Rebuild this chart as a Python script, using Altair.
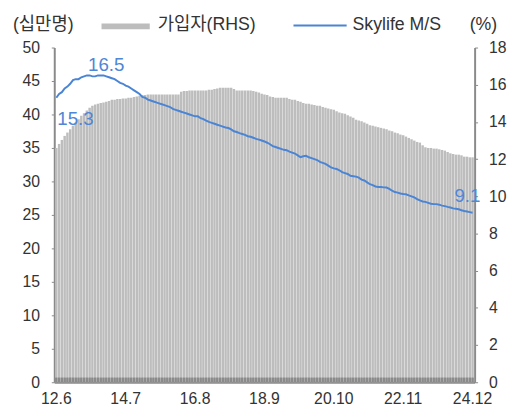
import altair as alt
import pandas as pd

# 가입자 (십만명), monthly 2012.6 - 2024.12
subscribers = [
    35.0, 35.6, 36.2, 36.8, 37.3, 37.8, 38.3, 38.8, 39.3, 39.8, 40.2, 40.6,
    41.0, 41.3, 41.5, 41.6, 41.7, 41.8, 41.9, 42.0, 42.2, 42.2, 42.3, 42.3,
    42.4, 42.4, 42.5, 42.5, 42.6, 42.7, 42.8, 42.9, 42.9, 43.0, 43.0, 43.0,
    43.0, 43.0, 43.0, 43.0, 43.0, 43.0, 43.0, 43.0, 43.0, 43.4, 43.5, 43.5,
    43.6, 43.6, 43.6, 43.6, 43.6, 43.6, 43.6, 43.7, 43.7, 43.8, 43.9, 44.0,
    44.0, 44.0, 44.0, 44.0, 43.8, 43.6, 43.6, 43.6, 43.6, 43.6, 43.6, 43.5,
    43.4, 43.3, 43.1, 43.0, 42.9, 42.7, 42.6, 42.5, 42.5, 42.5, 42.5, 42.5,
    42.3, 42.2, 42.2, 42.0, 41.9, 41.7, 41.6, 41.6, 41.5, 41.4, 41.3, 41.3,
    41.1, 41.0, 40.9, 40.8, 40.7, 40.5, 40.3, 40.2, 40.1, 39.9, 39.7, 39.5,
    39.2, 39.1, 39.0, 38.8, 38.6, 38.4, 38.3, 38.2, 38.1, 38.0, 37.9, 37.8,
    37.6, 37.5, 37.3, 37.2, 37.0, 36.9, 36.7, 36.5, 36.3, 36.1, 35.9, 35.8,
    35.4, 35.1, 35.0, 35.0, 34.9, 34.9, 34.8, 34.7, 34.6, 34.4, 34.2, 34.1,
    34.0, 34.0, 33.9, 33.7, 33.7, 33.6, 33.6,
]

# Skylife M/S (%)
share = [
    15.3, 15.5, 15.6, 15.8, 15.9, 16.05, 16.25, 16.3, 16.3, 16.4, 16.45, 16.5,
    16.5, 16.45, 16.45, 16.5, 16.5, 16.5, 16.45, 16.4, 16.35, 16.3, 16.2, 16.1,
    16.05, 15.95, 15.9, 15.8, 15.7, 15.6, 15.5, 15.35, 15.3, 15.2, 15.15, 15.1,
    15.05, 15.0, 14.95, 14.9, 14.85, 14.8, 14.7, 14.65, 14.6, 14.55, 14.5, 14.45,
    14.4, 14.35, 14.3, 14.3, 14.2, 14.15, 14.07, 14.0, 13.95, 13.9, 13.85, 13.8,
    13.75, 13.7, 13.67, 13.6, 13.5, 13.46, 13.4, 13.35, 13.3, 13.23, 13.2, 13.15,
    13.09, 13.05, 13.0, 12.95, 12.88, 12.8, 12.7, 12.65, 12.6, 12.55, 12.5, 12.48,
    12.4, 12.35, 12.3, 12.2, 12.1, 12.15, 12.18, 12.1, 12.05, 12.0, 11.95, 11.85,
    11.8, 11.74, 11.65, 11.55, 11.5, 11.47, 11.4, 11.3, 11.25, 11.2, 11.1, 11.08,
    11.06, 11.0, 10.9, 10.85, 10.75, 10.65, 10.6, 10.53, 10.5, 10.5, 10.48, 10.47,
    10.4, 10.3, 10.23, 10.2, 10.15, 10.12, 10.11, 10.05, 10.0, 9.94, 9.85, 9.78,
    9.72, 9.7, 9.65, 9.6, 9.58, 9.58, 9.55, 9.5, 9.47, 9.43, 9.4, 9.35,
    9.33, 9.3, 9.25, 9.21, 9.18, 9.15, 9.12,
]

months = []
for i in range(len(subscribers)):
    yy = 12 + (5 + i) // 12
    mm = (5 + i) % 12 + 1
    months.append(f"{yy}.{mm}")

tick_labels = ["12.6", "14.7", "16.8", "18.9", "20.10", "22.11", "24.12"]
left_ticks = [0, 5, 10, 15, 20, 25, 30, 35, 40, 45, 50]
right_ticks = [0, 2, 4, 6, 8, 10, 12, 14, 16, 18]

FONT = "Liberation Sans, Noto Sans CJK KR, sans-serif"
AXIS_GRAY = "#8a8a8a"
BAR_GRAY = "#bdbdbd"
BLUE = "#4a84d4"
LABEL_BLUE = "#4f86d6"

df = pd.DataFrame({"month": months, "subs": subscribers, "share": share})

x_axis = alt.Axis(values=tick_labels, labelAngle=0, title=None, ticks=False,
                  domainColor=AXIS_GRAY, domainWidth=2, labelFontSize=16,
                  labelColor="#333", labelPadding=9, labelFont=FONT,
                  labelOverlap=False, labelFlush=False)
x_scale = alt.Scale(paddingInner=0.12, paddingOuter=0.3)
x_enc = alt.X("month:N", sort=months, scale=x_scale, axis=x_axis)

left_axis = alt.Axis(values=left_ticks, title=None, grid=False, orient="left",
                     domainColor=AXIS_GRAY, domainWidth=2, tickColor=AXIS_GRAY,
                     tickSize=3, labelPadding=12, labelFontSize=16,
                     labelColor="#333", labelFont=FONT, labelOverlap=False,
                     labelFlush=False)
right_axis = alt.Axis(values=right_ticks, title=None, grid=False, orient="right",
                      domainColor=AXIS_GRAY, domainWidth=2, tickColor=AXIS_GRAY,
                      tickSize=3, labelPadding=11, labelFontSize=16,
                      labelColor="#333", labelFont=FONT, labelOverlap=False,
                      labelFlush=False)
left_scale = alt.Scale(domain=[0, 50])
right_scale = alt.Scale(domain=[0, 18])

base = alt.Chart(df)

bars = base.mark_bar(color=BAR_GRAY).encode(
    x=x_enc,
    y=alt.Y("subs:Q", scale=left_scale, axis=left_axis),
)
bottom_band = base.mark_bar(color=AXIS_GRAY).encode(
    x=x_enc,
    y=alt.YDatum(0, scale=left_scale, axis=left_axis),
    y2=alt.Y2Datum(0.7),
)
left_layer = alt.layer(bars, bottom_band)

line = base.mark_line(color=BLUE, strokeWidth=2).encode(
    x=x_enc,
    y=alt.Y("share:Q", scale=right_scale, axis=right_axis),
)

# annotations
ann_month = ["13.12", "12.6", "24.12"]
ann_value = [16.5, 15.3, 9.12]
ann_text = ["16.5", "15.3", "9.1"]
ann_df = pd.DataFrame({"month": ann_month, "share": ann_value, "text": ann_text})

def ann_layer(idx, align, dx, dy):
    return alt.Chart(ann_df.iloc[[idx]]).mark_text(
        align=align, baseline="middle", dx=dx, dy=dy, fontSize=19,
        color=LABEL_BLUE, font=FONT,
    ).encode(
        x=x_enc,
        y=alt.Y("share:Q", scale=right_scale, axis=right_axis),
        text="text:N",
    )

right_layer = alt.layer(
    line,
    ann_layer(0, "center", 0, -10),
    ann_layer(1, "left", 1, 22),
    ann_layer(2, "right", 8, -17),
)

# legend & unit titles (manual)
one = pd.DataFrame({"k": [0]})
legend_gray = alt.Chart(one).mark_rule(color=BAR_GRAY, strokeWidth=6).encode(
    x=alt.value(48), x2=alt.value(97), y=alt.value(-21.5))
legend_blue = alt.Chart(one).mark_rule(color=BLUE, strokeWidth=2).encode(
    x=alt.value(243), x2=alt.value(297), y=alt.value(-22.5))

def txt(s, xpos):
    return alt.Chart(one).mark_text(
        align="left", baseline="middle", fontSize=18, color="#333", font=FONT, text=s
    ).encode(x=alt.value(xpos), y=alt.value(-23))

legend = alt.layer(
    legend_gray, legend_blue,
    txt("(십만명)", -42), txt("가입자(RHS)", 105),
    txt("Skylife M/S", 303), txt("(%)", 422),
)

chart = alt.layer(left_layer, right_layer, legend).resolve_scale(
    y="independent"
).properties(
    width=427, height=340,
    autosize=alt.AutoSizeParams(type="none"),
    padding={"left": 47, "top": 37, "right": 40, "bottom": 24},
).configure_view(stroke=None)

chart.save("out.html", embed_options={"renderer": "svg", "actions": False})
